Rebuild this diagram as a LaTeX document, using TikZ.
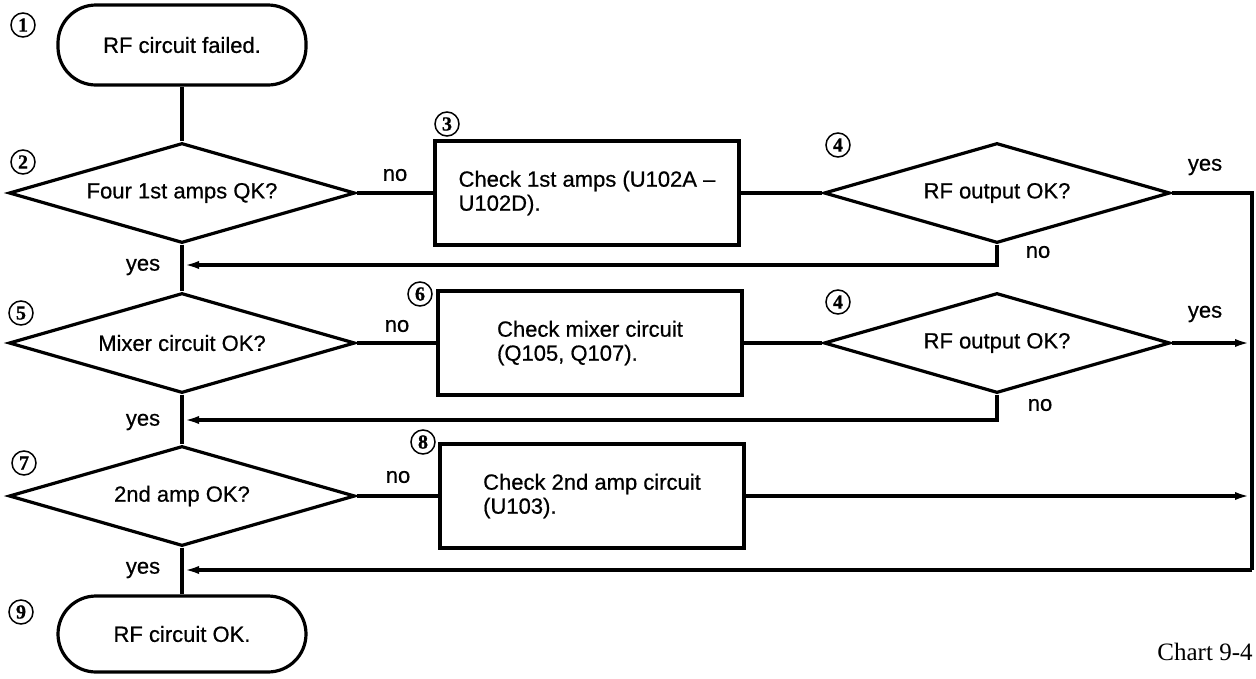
\documentclass[tikz,border=0pt]{standalone}
\usepackage{fontspec}
\setmainfont{Liberation Sans}[FakeBold=0.6]
\newfontfamily\chartserif{Liberation Serif}
\newfontfamily\numserif{Liberation Serif}[FakeBold=0.8]
\usetikzlibrary{shapes.geometric,arrows.meta}
\begin{document}
\begin{tikzpicture}[x=1pt,y=-1pt,
  every node/.style={font=\fontsize{22}{24}\selectfont},
  conn/.style={line width=3.2pt},
  arr/.style={conn,-{Latex[length=16pt,width=8pt]},shorten >=1pt},
  term/.style={draw,line width=3.2pt,rounded corners=38pt,minimum width=248pt,minimum height=80pt,inner sep=0pt},
  decision/.style={diamond,draw,line width=3.2pt,aspect=3.46,minimum width=346pt,minimum height=100pt,inner sep=0pt},
  stepbox/.style={draw,line width=3.2pt,minimum width=304pt,minimum height=104pt,align=left,inner sep=0pt},
  num/.style={circle,draw,line width=1.5pt,minimum size=24pt,inner sep=0pt,font=\numserif\bfseries\fontsize{20}{20}\selectfont},
  lbl/.style={inner sep=0pt}]
\useasboundingbox (0,0) rectangle (1256,678);
% main column
\node[term] (t1) at (182,45) {RF circuit failed.};
\node[decision] (d2) at (182,193) {Four 1st amps QK?};
\node[decision] (d5) at (182,343) {Mixer circuit OK?};
\node[decision] (d7) at (182,496) {2nd amp OK?};
\node[term,minimum height=76pt] (t9) at (182,634) {RF circuit OK.};
% boxes
\node[stepbox] (b3) at (587,193) {Check 1st amps (U102A –\\U102D).};
\node[stepbox] (b6) at (590,343) {Check mixer circuit\\(Q105, Q107).};
\node[stepbox] (b8) at (592,496) {Check 2nd amp circuit\\(U103).};
% right diamonds
\node[decision] (d4a) at (997,193) {RF output OK?};
\node[decision] (d4b) at (997,343) {RF output OK?};
% circled numbers
\node[num] (n1) at (23,25) {1};
\node[num] (n2) at (23,162) {2};
\node[num] (n3) at (447,124) {3};
\node[num] (n4a) at (838,145) {4};
\node[num] (n4b) at (838,302) {4};
\node[num] (n5) at (21,313) {5};
\node[num] (n6) at (420,294) {6};
\node[num] (n7) at (24,463) {7};
\node[num] (n8) at (423,442) {8};
\node[num] (n9) at (21,612) {9};
% junction coordinates
\coordinate (j1) at (182,265);
\coordinate (j2) at (182,420);
\coordinate (j3) at (182,570);
\coordinate (r1) at (1252,193);
\coordinate (r2) at (1252,343);
\coordinate (r3) at (1252,496);
\coordinate (rb) at (1252,570);
% connectors
\draw[conn] (t1.south) -- (d2.north);
\draw[conn] (d2.south) -- (d5.north);
\draw[conn] (d5.south) -- (d7.north);
\draw[conn] (d7.south) -- (t9.north);
\draw[conn] (d2.east) -- (b3.west);
\draw[conn] (b3.east) -- (d4a.west);
\draw[conn] (d4a.east) -- (r1) -- (rb);
\draw[arr] (d4a.south) |- (j1);
\draw[conn] (d5.east) -- (b6.west);
\draw[conn] (b6.east) -- (d4b.west);
\draw[arr] (d4b.east) -- (r2);
\draw[arr] (d4b.south) |- (j2);
\draw[conn] (d7.east) -- (b8.west);
\draw[arr] (b8.east) -- (r3);
\draw[arr] (rb) -- (j3);
% labels
\node[lbl] (l1) at (395,175) {no};
\node[lbl] (l2) at (397,326) {no};
\node[lbl] (l3) at (398,477) {no};
\node[lbl] (l4) at (1205,167) {yes};
\node[lbl] (l5) at (1205,314) {yes};
\node[lbl] (l6) at (1038,252) {no};
\node[lbl] (l7) at (1040,405) {no};
\node[lbl] (l8) at (143,267) {yes};
\node[lbl] (l9) at (143,422) {yes};
\node[lbl] (l10) at (143,570) {yes};
\node[lbl,font=\chartserif\fontsize{25}{25}\selectfont] (chart) at (1205,652) {Chart 9-4};
\end{tikzpicture}
\end{document}
